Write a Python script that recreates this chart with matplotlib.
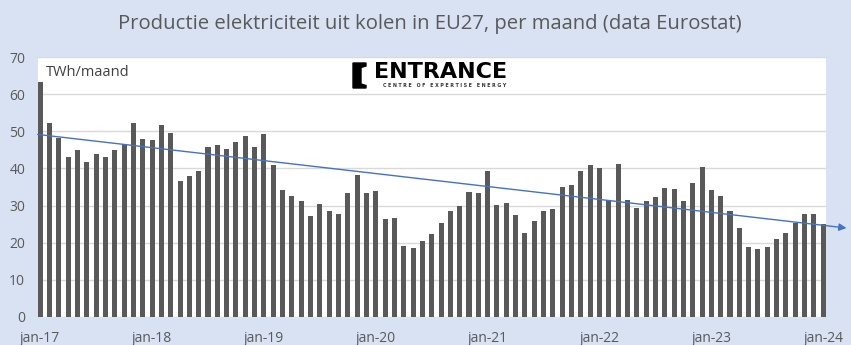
import numpy as np
import matplotlib
matplotlib.use("Agg")
import matplotlib.pyplot as plt
from matplotlib.patches import Polygon

# monthly coal-fired electricity production EU27, TWh (jan-17 .. jan-24)
production = [
    63.3, 52.3, 48.2, 43.1, 45.0, 41.7, 43.9, 43.1, 45.0, 46.6, 52.3, 48.0,
    47.7, 51.7, 49.6, 36.6, 38.0, 39.3, 45.8, 46.3, 45.3, 47.1, 48.8, 45.8,
    49.3, 40.9, 34.2, 32.6, 31.2, 27.2, 30.4, 28.5, 27.7, 33.4, 38.2, 33.4,
    33.9, 26.4, 26.6, 19.1, 18.5, 20.4, 22.3, 25.3, 28.5, 29.9, 33.7, 33.4,
    39.3, 30.1, 30.7, 27.4, 22.6, 25.8, 28.5, 29.1, 35.0, 35.5, 39.3, 40.9,
    40.1, 31.5, 41.2, 31.5, 29.3, 31.2, 32.3, 34.7, 34.5, 31.2, 36.1, 40.4,
    34.2, 32.6, 28.5, 23.9, 18.8, 18.3, 18.8, 21.0, 22.6, 25.3, 27.7, 27.7,
    25.0,
]
tick_labels = ["jan-17", "jan-18", "jan-19", "jan-20", "jan-21",
               "jan-22", "jan-23", "jan-24"]
y_ticks = [0, 10, 20, 30, 40, 50, 60, 70]

# Excel trendline (value at jan-17, change per month)
trend_start = 49.1
trend_slope = -0.291
trend_forecast = 2.5   # months forward

plt.rcParams['font.family'] = ['Open Sans', 'DejaVu Sans']

bg = '#D9E2F3'
grey = '#595959'

fig = plt.figure(figsize=(8.51, 3.45), dpi=100, facecolor=bg)
ax = fig.add_axes([0.0443, 0.082, 0.926, 0.752])
ax.set_facecolor('white')

x = np.arange(len(production))
ax.bar(x, production, width=0.54, color=grey, zorder=2)

x0, x1 = -0.27, len(production) - 1 + trend_forecast
ax.annotate('', xy=(x1, trend_start + trend_slope * x1),
            xytext=(x0, trend_start + trend_slope * x0),
            arrowprops=dict(arrowstyle='-|>', color='#4472C4', lw=1,
                            mutation_scale=11, shrinkA=0, shrinkB=0),
            annotation_clip=False, zorder=3)

ax.set_xlim(-0.27, len(production) - 1 + 0.27)
ax.set_ylim(0, 70)
ax.set_yticks(y_ticks)
ax.set_xticks(np.arange(0, len(production), 12))
ax.set_xticklabels(tick_labels)
ax.tick_params(length=0, labelsize=10, labelcolor=grey)
ax.tick_params(axis='x', pad=10)
ax.tick_params(axis='y', pad=9)
ax.grid(axis='y', color='#D9D9D9', lw=1, zorder=0)
for s in ax.spines.values():
    s.set_visible(False)

ax.text(0.01, 0.94, 'TWh/maand', transform=ax.transAxes, fontsize=10.5,
        color='#404040', va='center', ha='left')

fig.text(0.505, 0.93, 'Productie elektriciteit uit kolen in EU27, per maand (data Eurostat)',
         ha='center', va='center', fontsize=14.6, color=grey)

# logo
W, H = 851.0, 345.0
pts = [(353, 63), (366, 63), (366, 66), (361, 67.5), (361, 84), (366, 85.5),
       (366, 88), (353, 88)]
fig.patches.append(Polygon([(px / W, 1 - py / H) for px, py in pts], closed=True,
                           transform=fig.transFigure, color='black'))
fig.text(374 / W, 1 - 72 / H, 'ENTRANCE', fontsize=16, fontweight='bold',
         color='black', va='center', ha='left', family='DejaVu Sans')
fig.text(383 / W, 1 - 85.5 / H, 'C E N T R E   O F   E X P E R T I S E   E N E R G Y',
         fontsize=3.4, fontweight='bold', color='#333333', va='center', ha='left',
         family='DejaVu Sans')

fig.savefig('out.png', dpi=100, facecolor=bg)
